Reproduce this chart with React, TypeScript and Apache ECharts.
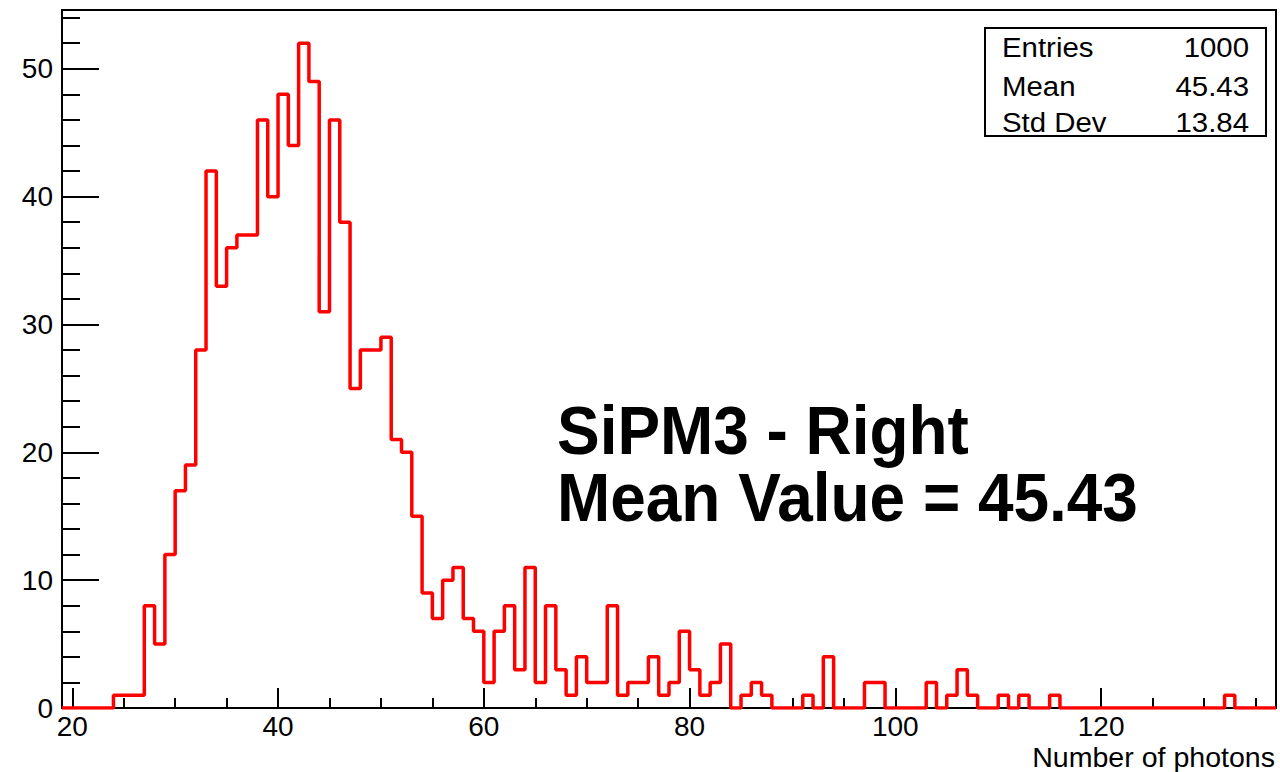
import React, { useEffect, useRef } from "react";
import * as echarts from "echarts";

// ---- data ----
const BIN_LOW = 19; // lower edge of the first bin
const BIN_WIDTH = 1;
const X_MIN = 19;
const X_MAX = 137;
const Y_MAX = 54.6;

// counts per bin, bins [19,20), [20,21), ..., [136,137)
const counts = [
  0, 0, 0, 0, 0, 1, 1, 1, 8, 5,
  12, 17, 19, 28, 42, 33, 36, 37, 37, 46,
  40, 48, 44, 52, 49, 31, 46, 38, 25, 28,
  28, 29, 21, 20, 15, 9, 7, 10, 11, 7,
  6, 2, 6, 8, 3, 11, 2, 8, 3, 1,
  4, 2, 2, 8, 1, 2, 2, 4, 1, 2,
  6, 3, 1, 2, 5, 0, 1, 2, 1, 0,
  0, 0, 1, 0, 4, 0, 0, 0, 2, 2,
  0, 0, 0, 0, 2, 0, 1, 3, 1, 0,
  0, 1, 0, 1, 0, 0, 1, 0, 0, 0,
  0, 0, 0, 0, 0, 0, 0, 0, 0, 0,
  0, 0, 0, 1, 0, 0, 0, 0,
];

const xMajorTicks = [20, 40, 60, 80, 100, 120];
const xMinorTicks = [25, 30, 35, 45, 50, 55, 65, 70, 75, 85, 90, 95, 105, 110, 115, 125, 130, 135];
const yMajorTicks = [0, 10, 20, 30, 40, 50];
const yMinorTicks = [2, 4, 6, 8, 12, 14, 16, 18, 22, 24, 26, 28, 32, 34, 36, 38, 42, 44, 46, 48, 52, 54];

const xTitle = "Number of photons";
const statsLabels = ["Entries", "Mean", "Std Dev"];
const statsValues = ["1000", "45.43", "13.84"];
const noteLines = ["SiPM3 - Right", "Mean Value = 45.43"];

const FONT = "'Liberation Sans', Arial, Helvetica, sans-serif";

export default function App() {
  const ref = useRef<HTMLDivElement>(null);

  useEffect(() => {
    if (!ref.current) return;
    const chart = echarts.init(ref.current, undefined, { renderer: "svg" });

    // step outline: one point per bin lower edge, plus the final upper edge
    const stepData: [number, number][] = counts.map((c, i) => [BIN_LOW + i * BIN_WIDTH, c]);
    stepData.push([BIN_LOW + counts.length * BIN_WIDTH, counts[counts.length - 1]]);

    const statsRowY = [47.5, 85.8, 122.5];

    const option: any = {
      animation: false,
      backgroundColor: "#ffffff",
      grid: {
        left: 62,
        right: 4,
        top: 10,
        bottom: 64,
        show: true,
        borderColor: "#000000",
        borderWidth: 2,
        backgroundColor: "transparent",
        containLabel: false,
        outerBoundsMode: "none",
      },
      xAxis: [
        {
          type: "value",
          position: "bottom",
          min: X_MIN,
          max: X_MAX,
          axisLine: { show: true, onZero: false, lineStyle: { color: "#000", width: 2 } },
          axisTick: {
            show: true,
            inside: true,
            length: 20,
            customValues: xMajorTicks,
            lineStyle: { color: "#000", width: 2 },
          },
          axisLabel: {
            show: true,
            customValues: xMajorTicks,
            margin: 4,
            color: "#000",
            fontSize: 28,
            fontFamily: FONT,
          },
          splitLine: { show: false },
        },
        {
          type: "value",
          position: "bottom",
          min: X_MIN,
          max: X_MAX,
          axisLine: { show: false },
          axisTick: {
            show: true,
            inside: true,
            length: 10,
            customValues: xMinorTicks,
            lineStyle: { color: "#000", width: 2 },
          },
          axisLabel: { show: false },
          splitLine: { show: false },
        },
      ],
      yAxis: [
        {
          type: "value",
          position: "left",
          min: 0,
          max: Y_MAX,
          axisLine: { show: true, onZero: false, lineStyle: { color: "#000", width: 2 } },
          axisTick: {
            show: true,
            inside: true,
            length: 37,
            customValues: yMajorTicks,
            lineStyle: { color: "#000", width: 2 },
          },
          axisLabel: {
            show: true,
            customValues: yMajorTicks,
            margin: 9,
            color: "#000",
            fontSize: 28,
            fontFamily: FONT,
          },
          splitLine: { show: false },
        },
        {
          type: "value",
          position: "left",
          min: 0,
          max: Y_MAX,
          axisLine: { show: false },
          axisTick: {
            show: true,
            inside: true,
            length: 18,
            customValues: yMinorTicks,
            lineStyle: { color: "#000", width: 2 },
          },
          axisLabel: { show: false },
          splitLine: { show: false },
        },
      ],
      series: [
        {
          type: "line",
          xAxisIndex: 0,
          yAxisIndex: 0,
          step: "end",
          data: stepData,
          showSymbol: false,
          symbol: "none",
          clip: true,
          lineStyle: { color: "#ff0000", width: 3.5 },
          z: 5,
        },
      ],
      graphic: [
        {
          type: "text",
          x: 1275,
          y: 757,
          z: 11,
          scaleX: 1.02,
          style: {
            text: xTitle,
            fill: "#000",
            fontSize: 28,
            fontFamily: FONT,
            align: "right",
            verticalAlign: "middle",
          },
        },
        {
          type: "rect",
          shape: { x: 985, y: 28, width: 281, height: 108 },
          style: { fill: "#ffffff", stroke: "#000000", lineWidth: 2 },
          z: 10,
        },
        ...statsLabels.map((t, i) => ({
          type: "text",
          x: 1002,
          y: statsRowY[i],
          scaleX: 1.05,
          z: 11,
          style: {
            text: t,
            fill: "#000",
            fontSize: 28,
            fontFamily: FONT,
            align: "left",
            verticalAlign: "middle",
          },
        })),
        ...statsValues.map((t, i) => ({
          type: "text",
          x: 1249,
          y: statsRowY[i],
          scaleX: 1.05,
          z: 11,
          style: {
            text: t,
            fill: "#000",
            fontSize: 28,
            fontFamily: FONT,
            align: "right",
            verticalAlign: "middle",
          },
        })),
        ...noteLines.map((t, i) => ({
          type: "text",
          x: 557,
          y: [430, 497][i],
          scaleX: 0.94,
          z: 11,
          style: {
            text: t,
            fill: "#000",
            fontSize: 68,
            fontWeight: "bold",
            fontFamily: FONT,
            align: "left",
            verticalAlign: "middle",
          },
        })),
      ],
    };

    chart.setOption(option);
    return () => {
      chart.dispose();
    };
  }, []);

  return (
    <div
      ref={ref}
      style={{ position: "absolute", left: 0, top: 0, width: 1280, height: 772, background: "#fff" }}
    />
  );
}
